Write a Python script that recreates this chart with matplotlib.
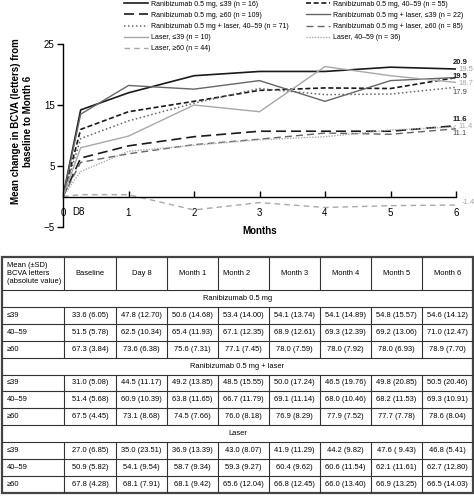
import numpy as np
import matplotlib.pyplot as plt
from matplotlib.lines import Line2D

plt.rcParams['font.family'] = ['Liberation Sans', 'DejaVu Sans']

# x positions: baseline, day 8, months 1-6
months = [0, 0.27, 1, 2, 3, 4, 5, 6]

# mean change in BCVA (letters) from baseline
r_39 = [0, 14.2, 17.0, 19.8, 20.5, 20.5, 21.2, 20.9]
r_40_59 = [0, 11.0, 13.9, 15.6, 17.4, 17.8, 17.7, 19.5]
r_60 = [0, 6.3, 8.3, 9.8, 10.7, 10.7, 10.7, 11.6]
rl_39 = [0, 13.5, 18.2, 17.6, 19.0, 15.6, 19.0, 19.5]
rl_40_59 = [0, 9.5, 12.4, 15.3, 17.7, 16.7, 16.8, 17.9]
rl_60 = [0, 5.6, 7.0, 8.5, 9.4, 10.4, 10.2, 11.1]
l_39 = [0, 8.0, 9.9, 15.0, 13.9, 21.3, 19.8, 18.7]
l_40_59 = [0, 4.1, 7.4, 8.4, 9.3, 9.8, 10.9, 11.4]
l_60 = [0, 0.3, 0.3, -2.2, -1.0, -1.8, -1.5, -1.4]

labels = {
    'r_39': 'Ranibizumab 0.5 mg, \u226439 (n = 16)',
    'r_40_59': 'Ranibizumab 0.5 mg, 40\u201359 (n = 55)',
    'r_60': 'Ranibizumab 0.5 mg, \u226560 (n = 109)',
    'rl_39': 'Ranibizumab 0.5 mg + laser, \u226439 (n = 22)',
    'rl_40_59': 'Ranibizumab 0.5 mg + laser, 40\u201359 (n = 71)',
    'rl_60': 'Ranibizumab 0.5 mg + laser, \u226560 (n = 85)',
    'l_39': 'Laser, \u226439 (n = 10)',
    'l_40_59': 'Laser, 40\u201359 (n = 36)',
    'l_60': 'Laser, \u226560 (n = 44)',
}

# table values (absolute BCVA letters, mean (SD))
tab_cols = ['Baseline', 'Day 8', 'Month 1', 'Month 2', 'Month 3', 'Month 4', 'Month 5', 'Month 6']
tab_groups = ['Ranibizumab 0.5 mg', 'Ranibizumab 0.5 mg + laser', 'Laser']
tab_rowlab = ['\u226439', '40\u201359', '\u226560']
tab_r = [
    ['33.6 (6.05)', '47.8 (12.70)', '50.6 (14.68)', '53.4 (14.00)', '54.1 (13.74)', '54.1 (14.89)', '54.8 (15.57)', '54.6 (14.12)'],
    ['51.5 (5.78)', '62.5 (10.34)', '65.4 (11.93)', '67.1 (12.35)', '68.9 (12.61)', '69.3 (12.39)', '69.2 (13.06)', '71.0 (12.47)'],
    ['67.3 (3.84)', '73.6 (6.38)', '75.6 (7.31)', '77.1 (7.45)', '78.0 (7.59)', '78.0 (7.92)', '78.0 (6.93)', '78.9 (7.70)'],
]
tab_rl = [
    ['31.0 (5.08)', '44.5 (11.17)', '49.2 (13.85)', '48.5 (15.55)', '50.0 (17.24)', '46.5 (19.76)', '49.8 (20.85)', '50.5 (20.46)'],
    ['51.4 (5.68)', '60.9 (10.39)', '63.8 (11.65)', '66.7 (11.79)', '69.1 (11.14)', '68.0 (10.46)', '68.2 (11.53)', '69.3 (10.91)'],
    ['67.5 (4.45)', '73.1 (8.68)', '74.5 (7.66)', '76.0 (8.18)', '76.9 (8.29)', '77.9 (7.52)', '77.7 (7.78)', '78.6 (8.04)'],
]
tab_l = [
    ['27.0 (6.85)', '35.0 (23.51)', '36.9 (13.39)', '43.0 (8.07)', '41.9 (11.29)', '44.2 (9.82)', '47.6 ( 9.43)', '46.8 (5.41)'],
    ['50.9 (5.82)', '54.1 (9.54)', '58.7 (9.34)', '59.3 (9.27)', '60.4 (9.62)', '60.6 (11.54)', '62.1 (11.61)', '62.7 (12.80)'],
    ['67.8 (4.28)', '68.1 (7.91)', '68.1 (9.42)', '65.6 (12.04)', '66.8 (12.45)', '66.0 (13.40)', '66.9 (13.25)', '66.5 (14.03)'],
]

W, H = 474, 498
fig = plt.figure(figsize=(W / 100, H / 100), dpi=100)
ax = fig.add_axes([63 / W, 1 - 227 / H, (456 - 63) / W, (227 - 44) / H])

blk = '#1a1a1a'
mid = '#666666'
lgt = '#a8a8a8'
# series, linestyle, colour, width, end label colour, bold, label dy, label dx
series = {
    'r_39': (r_39, '-', blk, 1.2, blk, True, 1.1, 0.0),
    'r_40_59': (r_40_59, (0, (3, 1.6)), blk, 1.2, blk, True, 0.1, 0.0),
    'r_60': (r_60, (0, (6, 3)), blk, 1.2, blk, True, 1.1, 0.0),
    'rl_39': (rl_39, '-', mid, 1.0, '#9a9a9a', False, 1.3, 0.09),
    'rl_40_59': (rl_40_59, (0, (1, 1.6)), mid, 1.1, '#444444', False, -0.9, 0.0),
    'rl_60': (rl_60, (0, (5, 3)), mid, 1.0, '#444444', False, -0.8, 0.0),
    'l_39': (l_39, '-', lgt, 1.0, lgt, False, -0.2, 0.09),
    'l_40_59': (l_40_59, (0, (1, 1)), lgt, 1.0, lgt, False, 0.0, 0.09),
    'l_60': (l_60, (0, (4, 3)), lgt, 1.0, lgt, False, 0.4, 0.14),
}

handles = {}
for key, (vals, ls, col, lw, lcol, bold, dy, dx) in series.items():
    ln, = ax.plot(months, vals, linestyle=ls, color=col, lw=lw, label=labels[key])
    handles[key] = ln
    ax.text(months[-1] - 0.05 + dx, vals[-1] + dy, '%.1f' % vals[-1], fontsize=5.5, color=lcol,
            fontweight='bold' if bold else 'normal', ha='left', va='center', clip_on=False)

ax.set_xlim(0, 6)
ax.set_ylim(-5, 25)
for s in ['top', 'right']:
    ax.spines[s].set_visible(False)
ax.spines['bottom'].set_position(('data', 0))
ax.spines['bottom'].set_bounds(0, 6)
ax.spines['left'].set_linewidth(1.0)
ax.spines['bottom'].set_linewidth(1.0)
ax.set_yticks([-5, 5, 15, 25])
ax.tick_params(axis='y', labelsize=7, length=4, width=1.0, pad=2)
ax.set_xticks([0, 1, 2, 3, 4, 5, 6])
ax.set_xticklabels(['0', '1', '2', '3', '4', '5', '6'])
ax.tick_params(axis='x', direction='in', labelsize=7, length=4, width=1.0, pad=8.5)
ax.text(0.23, -2.55, 'D8', fontsize=7, ha='center', va='center')
ax.set_facecolor('none')

fig.text(260 / W, 1 - 231 / H, 'Months', fontsize=7, fontweight='bold', ha='center', va='center')
fig.text(22 / W, 1 - 121 / H, 'Mean change in BCVA (letters) from\nbaseline to Month 6', fontsize=7,
         fontweight='bold', rotation=90, ha='center', va='center', multialignment='center')

order = ['r_39', 'r_60', 'rl_40_59', 'l_39', 'l_60', 'r_40_59', 'rl_39', 'rl_60', 'l_40_59']
fig.legend([handles[k] for k in order], [labels[k] for k in order], loc='upper left',
           bbox_to_anchor=(123 / W, 1.0), ncol=2, frameon=False, fontsize=5.0, borderpad=0,
           borderaxespad=0.1, handlelength=3.45, handletextpad=0.43, columnspacing=2.6,
           labelspacing=0.6)

# ---- table ----
tax = fig.add_axes([0, 0, 1, 1])
tax.set_xlim(0, W)
tax.set_ylim(H, 0)
tax.axis('off')

col_edges = [2, 64, 116, 167, 218, 269, 320, 371, 422, 473]
top, head_bot, row_h = 257, 290, 16.9
n_rows = 12
bot = head_bot + row_h * n_rows
fs = 5.4

# header
tax.text(7, (top + head_bot) / 2, 'Mean (\u00b1SD)\nBCVA letters\n(absolute value)', fontsize=fs,
         ha='left', va='center', linespacing=1.15)
for i, c in enumerate(tab_cols):
    x0, x1 = col_edges[i + 1], col_edges[i + 2]
    if c == 'Month 2':
        tax.text(x0 + 5, (top + head_bot) / 2, c, fontsize=fs, ha='left', va='center')
    else:
        tax.text((x0 + x1) / 2, (top + head_bot) / 2, c, fontsize=fs, ha='center', va='center')

lc = '#333333'
tax.hlines(head_bot, col_edges[0], col_edges[-1], color=lc, lw=0.8)
tax.vlines(col_edges[1:-1], top, head_bot, color=lc, lw=0.8)

blocks = [tab_r, tab_rl, tab_l]
r = 0
for g, name in enumerate(tab_groups):
    y0 = head_bot + r * row_h
    tax.text((col_edges[0] + col_edges[-1]) / 2, y0 + row_h / 2, name, fontsize=fs, ha='center', va='center')
    tax.hlines(y0 + row_h, col_edges[0], col_edges[-1], color=lc, lw=0.8)
    r += 1
    for k, vals in enumerate(blocks[g]):
        y0 = head_bot + r * row_h
        yc = y0 + row_h / 2
        tax.text(7, yc, tab_rowlab[k], fontsize=fs, ha='left', va='center')
        for j, v in enumerate(vals):
            tax.text((col_edges[j + 1] + col_edges[j + 2]) / 2, yc, v, fontsize=fs, ha='center', va='center')
        tax.vlines(col_edges[1:-1], y0, y0 + row_h, color=lc, lw=0.8)
        if r < n_rows - 1:
            tax.hlines(y0 + row_h, col_edges[0], col_edges[-1], color=lc, lw=0.8)
        r += 1

tax.add_patch(plt.Rectangle((col_edges[0], top), col_edges[-1] - col_edges[0], bot - top,
                            fill=False, ec='#444444', lw=1.6))

fig.savefig('out.png', dpi=100)
